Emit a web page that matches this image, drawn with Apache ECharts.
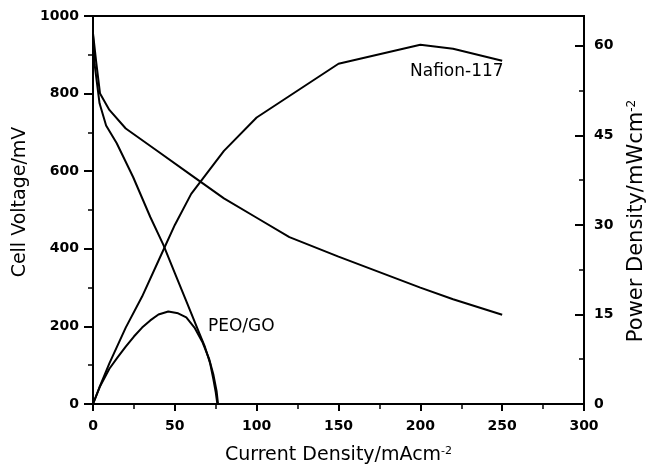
<!DOCTYPE html>
<html>
<head>
<meta charset="utf-8">
<script src="https://cdn.jsdelivr.net/npm/echarts@6/dist/echarts.min.js"></script>
<style>
  html, body { margin: 0; padding: 0; background: #fff; }
  #chart { width: 657px; height: 470px; }
</style>
</head>
<body>
<div id="chart"></div>
<script>
// Nafion-117 polarization (left axis, mV)
var nafionVx = [0, 2, 4.3, 10, 20, 40, 60, 80, 100, 120, 150, 200, 220, 250];
var nafionV  = [955, 880, 800, 758, 710, 650, 590, 530, 480, 430, 380, 300, 270, 230];
// Nafion-117 power density (right axis, mW/cm2)
var nafionPx = [0, 5, 10, 20, 30, 40, 50, 60, 80, 100, 120, 150, 200, 220, 250];
var nafionP  = [0, 3.5, 6.8, 12.8, 18, 24, 30, 35.2, 42.4, 48, 51.6, 57, 60.2, 59.5, 57.5];
// PEO/GO polarization
var peoVx = [0, 1, 4, 8, 14.5, 24.5, 35, 43, 50, 57, 65, 68.4, 71.5, 73.5, 75, 76];
var peoV  = [950, 875, 775, 718, 672, 585, 482, 410, 337, 265, 182, 147, 106, 65, 30, 0];
// PEO/GO power density
var peoPx = [0, 4, 10, 15, 20, 25, 30, 35, 40, 46, 52, 57, 62, 67, 71, 73.5, 75.5, 76.4];
var peoP  = [0, 2.8, 5.9, 7.8, 9.6, 11.3, 12.8, 14.0, 15.0, 15.5, 15.2, 14.5, 12.8, 10.3, 7.5, 5.0, 2.2, 0];

function pairs(xs, ys) {
	return xs.map(function (x, i) { return [x, ys[i]]; });
}

var chart = echarts.init(document.getElementById('chart'));

var labelStyle = {
	fontFamily: 'DejaVu Sans',
	fontWeight: 'bold',
	fontSize: 14,
	color: '#000'
};
var nameFont = {
	fontFamily: 'DejaVu Sans',
	fontSize: 19,
	color: '#000'
};
var lineStyleAxis = { color: '#000', width: 2 };

chart.setOption({
	animation: false,
	backgroundColor: '#fff',
	grid: {
		left: 93, right: 73, top: 16, bottom: 66,
		show: true, borderColor: '#000', borderWidth: 2
	},
	xAxis: {
		type: 'value',
		min: 0, max: 300, interval: 50,
		name: '{a|Current Density/mAcm}{b|-2}',
		nameLocation: 'middle',
		nameGap: 42,
		nameTextStyle: {
			rich: {
				a: nameFont,
				b: { fontFamily: 'DejaVu Sans', fontSize: 11, color: '#000', verticalAlign: 'top', padding: [0, 0, 6, 0] }
			}
		},
		axisLine: { lineStyle: lineStyleAxis },
		axisTick: { length: 7, lineStyle: lineStyleAxis },
		minorTick: { show: true, splitNumber: 2, length: 5, lineStyle: { color: '#000', width: 1.5 } },
		splitLine: { show: false },
		axisLabel: Object.assign({ margin: 15 }, labelStyle)
	},
	yAxis: [
		{
			type: 'value',
			position: 'left',
			min: 0, max: 1000, interval: 200,
			name: 'Cell Voltage/mV',
			nameLocation: 'middle',
			nameRotate: 90,
			nameGap: 62,
			nameTextStyle: Object.assign({ padding: [0, 0, 0, 16] }, nameFont),
			axisLine: { show: true, lineStyle: lineStyleAxis },
			axisTick: { show: true, length: 9, lineStyle: lineStyleAxis },
			minorTick: { show: true, splitNumber: 2, length: 5, lineStyle: { color: '#000', width: 1.5 } },
			splitLine: { show: false },
			axisLabel: Object.assign({ margin: 14, formatter: function (v) { return String(v); } }, labelStyle)
		},
		{
			type: 'value',
			position: 'right',
			min: 0, max: 65, interval: 15,
			name: '{a|Power Density/mWcm}{b|-2}',
			nameLocation: 'middle',
			nameRotate: 90,
			nameGap: 42,
			nameTextStyle: {
				padding: [0, 22, 0, 0],
				rich: {
					a: { fontFamily: 'DejaVu Sans', fontSize: 21, color: '#000' },
					b: { fontFamily: 'DejaVu Sans', fontSize: 12, color: '#000', verticalAlign: 'top', padding: [0, 0, 6, 0] }
				}
			},
			axisLine: { show: true, lineStyle: lineStyleAxis },
			axisTick: { show: true, inside: true, length: 9, lineStyle: lineStyleAxis },
			splitLine: { show: false },
			axisLabel: Object.assign({ margin: 10, showMaxLabel: false }, labelStyle)
		},
		{
			// minor ticks of the power axis
			type: 'value',
			position: 'right',
			min: 0, max: 65, interval: 7.5,
			axisLine: { show: false },
			axisTick: { show: true, inside: true, length: 5, lineStyle: { color: '#000', width: 1.5 } },
			splitLine: { show: false },
			axisLabel: { show: false }
		}
	],
	graphic: [
		{ type: 'text', left: 410, top: 63, style: { text: 'Nafion-117', font: '17px "DejaVu Sans"', fill: '#000' } },
		{ type: 'text', left: 208, top: 318, style: { text: 'PEO/GO', font: '17px "DejaVu Sans"', fill: '#000' } }
	],
	series: [
		{
			name: 'Nafion-117 voltage', type: 'line', yAxisIndex: 0,
			showSymbol: false, lineStyle: { color: '#000', width: 2 },
			data: pairs(nafionVx, nafionV)
		},
		{
			name: 'Nafion-117 power', type: 'line', yAxisIndex: 1,
			showSymbol: false, lineStyle: { color: '#000', width: 2 },
			data: pairs(nafionPx, nafionP)
		},
		{
			name: 'PEO/GO voltage', type: 'line', yAxisIndex: 0,
			showSymbol: false, lineStyle: { color: '#000', width: 2 },
			data: pairs(peoVx, peoV)
		},
		{
			name: 'PEO/GO power', type: 'line', yAxisIndex: 1,
			showSymbol: false, lineStyle: { color: '#000', width: 2 },
			data: pairs(peoPx, peoP)
		}
	]
});
</script>
</body>
</html>
